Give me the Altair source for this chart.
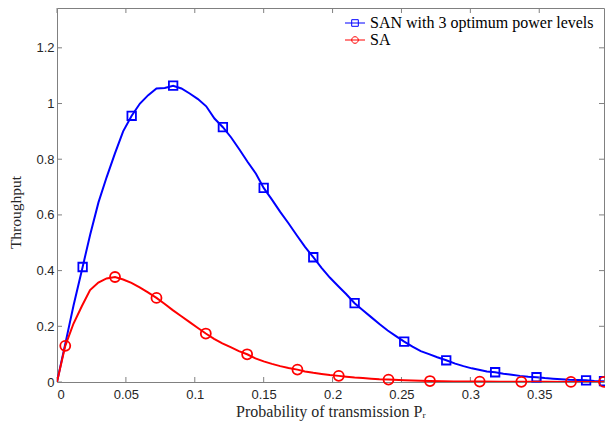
import altair as alt
import pandas as pd

SERIES = ["SAN with 3 optimum power levels", "SA"]
COLORS = ["#0000ff", "#ff0000"]

# SAN curve (blue)
san_x = [0, 0.006, 0.012, 0.0186, 0.0241, 0.0301, 0.036, 0.042, 0.048, 0.0542,
         0.0602, 0.0662, 0.0722, 0.0782, 0.0843, 0.0903, 0.0963, 0.1023, 0.1083, 0.1143,
         0.1204, 0.1264, 0.1324, 0.1384, 0.1444, 0.150, 0.156, 0.162, 0.168, 0.174,
         0.180, 0.186, 0.192, 0.198, 0.204, 0.210, 0.216, 0.222, 0.228, 0.234,
         0.240, 0.246, 0.252, 0.258, 0.264, 0.270, 0.276, 0.2825, 0.289, 0.295,
         0.301, 0.307, 0.312, 0.318, 0.324, 0.330, 0.336, 0.342, 0.348, 0.354,
         0.360, 0.366, 0.372, 0.378, 0.384, 0.390, 0.397]
san_y = [0, 0.137, 0.275, 0.413, 0.53, 0.645, 0.735, 0.82, 0.9, 0.956,
         1.0, 1.03, 1.054, 1.056, 1.064, 1.054, 1.036, 1.016, 0.99, 0.946,
         0.915, 0.878, 0.835, 0.79, 0.748, 0.697, 0.655, 0.611, 0.57, 0.527,
         0.485, 0.448, 0.41, 0.375, 0.345, 0.315, 0.283, 0.258, 0.233, 0.208,
         0.185, 0.165, 0.145, 0.127, 0.111, 0.1, 0.089, 0.078, 0.066, 0.057,
         0.049, 0.043, 0.038, 0.035, 0.03, 0.026, 0.022, 0.019, 0.017, 0.014,
         0.012, 0.01, 0.008, 0.007, 0.006, 0.004, 0.003]
san_mx = [0.0186, 0.0542, 0.0843, 0.1204, 0.150, 0.186, 0.216, 0.252, 0.2825, 0.318, 0.348, 0.384, 0.397]
san_my = [0.413, 0.956, 1.064, 0.915, 0.697, 0.448, 0.283, 0.145, 0.078, 0.035, 0.017, 0.006, 0.003]

# SA curve (red)
sa_x = [0, 0.006, 0.012, 0.018, 0.024, 0.030, 0.036, 0.0421, 0.048, 0.054,
        0.060, 0.066, 0.0722, 0.078, 0.084, 0.090, 0.096, 0.102, 0.108, 0.114,
        0.120, 0.126, 0.132, 0.138, 0.144, 0.150, 0.156, 0.162, 0.168, 0.1745,
        0.180, 0.186, 0.192, 0.198, 0.2045, 0.210, 0.216, 0.222, 0.228, 0.234,
        0.2406, 0.252, 0.264, 0.2707, 0.288, 0.3068, 0.322, 0.337, 0.355, 0.373,
        0.385, 0.397]
sa_y = [0, 0.13, 0.21, 0.272, 0.33, 0.357, 0.372, 0.377, 0.368, 0.356,
        0.34, 0.322, 0.302, 0.281, 0.258, 0.237, 0.216, 0.195, 0.174, 0.155,
        0.139, 0.125, 0.111, 0.0995, 0.085, 0.074, 0.065, 0.057, 0.05, 0.0445,
        0.038, 0.033, 0.029, 0.025, 0.022, 0.019, 0.016, 0.014, 0.012, 0.010,
        0.0088, 0.0062, 0.0042, 0.0035, 0.0022, 0.0015, 0.0011, 0.0008, 0.0006, 0.0004,
        0.0003, 0.0002]
sa_mx = [0.006, 0.0421, 0.0722, 0.108, 0.138, 0.1745, 0.2045, 0.2406, 0.2707, 0.3068, 0.337, 0.373, 0.397]
sa_my = [0.13, 0.377, 0.302, 0.174, 0.0995, 0.0445, 0.022, 0.0088, 0.0035, 0.0015, 0.0008, 0.0004, 0.0002]

x_ticks = [0, 0.05, 0.1, 0.15, 0.2, 0.25, 0.3, 0.35]
y_ticks = [0, 0.2, 0.4, 0.6, 0.8, 1, 1.2]

X_MAX = 0.397
Y_MAX = 1.343
W, H = 547, 374
TICK = 5
FRAME = "#808080"
LABEL = "#262626"

xs = alt.Scale(domain=[0, X_MAX], nice=False, zero=False)
ys = alt.Scale(domain=[0, Y_MAX], nice=False, zero=False)

x_axis = alt.Axis(values=x_ticks, format="~g", ticks=False, domain=False, grid=False,
                  labelFont="Liberation Sans", labelFontSize=13, labelColor=LABEL, labelPadding=6,
                  title="Probability of transmission Pᵣ", titleFont="Liberation Serif",
                  titleFontSize=16, titleFontWeight="normal", titleColor=LABEL, titlePadding=2)
y_axis = alt.Axis(values=y_ticks, format="~g", ticks=False, domain=False, grid=False,
                  labelFont="Liberation Sans", labelFontSize=13, labelColor=LABEL, labelPadding=3,
                  title="Throughput", titleFont="Liberation Serif", titleFontSize=15.5,
                  titleFontWeight="normal", titleColor=LABEL,
                  titleX=-42, titleY=204, titleAngle=270, titleAlign="center",
                  titleBaseline="middle")

san_df = pd.DataFrame({"x": san_x, "y": san_y})
san_m = pd.DataFrame({"x": san_mx, "y": san_my})
sa_df = pd.DataFrame({"x": sa_x, "y": sa_y})
sa_m = pd.DataFrame({"x": sa_mx, "y": sa_my})

san_line = alt.Chart(san_df).mark_line(color=COLORS[0], strokeWidth=2, clip=True).encode(
    x=alt.X("x:Q", scale=xs, axis=x_axis), y=alt.Y("y:Q", scale=ys, axis=y_axis))
san_pts = alt.Chart(san_m).mark_point(shape="square", filled=False, color=COLORS[0],
                                      size=72, strokeWidth=1.8, opacity=1).encode(
    x=alt.X("x:Q"), y=alt.Y("y:Q"))
sa_line = alt.Chart(sa_df).mark_line(color=COLORS[1], strokeWidth=2, clip=True).encode(
    x=alt.X("x:Q"), y=alt.Y("y:Q"))
sa_pts = alt.Chart(sa_m).mark_point(shape="circle", filled=False, color=COLORS[1],
                                    size=100, strokeWidth=1.8, opacity=1).encode(
    x=alt.X("x:Q"), y=alt.Y("y:Q"))

SQ = "M-2,0H2M-0.66,-0.66H0.66V0.66H-0.66Z"
CI = "M-2,0H2M0.66,0A0.66,0.66,0,1,1,-0.66,0A0.66,0.66,0,1,1,0.66,0Z"
legend = alt.Legend(title=None, orient="none", legendX=290, legendY=7, padding=0,
                    symbolSize=100, symbolStrokeWidth=1, labelFont="Liberation Serif",
                    labelFontSize=16, labelColor="#000000", labelOffset=7, rowPadding=1,
                    labelLimit=400)
leg_layer = alt.Chart(pd.DataFrame({"series": SERIES})).transform_filter("false").mark_point(
    filled=False, size=100, strokeWidth=1, opacity=1).encode(
    color=alt.Color("series:N", scale=alt.Scale(domain=SERIES, range=COLORS), legend=legend),
    shape=alt.Shape("series:N", scale=alt.Scale(domain=SERIES, range=[SQ, CI]), legend=legend),
)

xt = pd.DataFrame({"x": x_ticks})
yt = pd.DataFrame({"y": y_ticks})
tick_bottom = alt.Chart(xt).mark_rule(color=FRAME, strokeWidth=1).encode(
    x=alt.X("x:Q"), y=alt.value(H), y2=alt.value(H - TICK))
tick_top = alt.Chart(xt).mark_rule(color=FRAME, strokeWidth=1).encode(
    x=alt.X("x:Q"), y=alt.value(0), y2=alt.value(TICK))
tick_left = alt.Chart(yt).mark_rule(color=FRAME, strokeWidth=1).encode(
    y=alt.Y("y:Q"), x=alt.value(0), x2=alt.value(TICK))
tick_right = alt.Chart(yt).mark_rule(color=FRAME, strokeWidth=1).encode(
    y=alt.Y("y:Q"), x=alt.value(W), x2=alt.value(W - TICK))

chart = alt.layer(
    san_line, tick_bottom, tick_top, tick_left, tick_right,
    san_pts, sa_line, sa_pts, leg_layer
).properties(
    width=W, height=H,
    padding={"left": 49, "top": 0, "right": 1, "bottom": 44},
    autosize=alt.AutoSizeParams(type="none"),
    background="white",
).configure_view(stroke=FRAME, strokeWidth=1)

chart.save("out.html", embed_options={"renderer": "svg", "actions": False})
